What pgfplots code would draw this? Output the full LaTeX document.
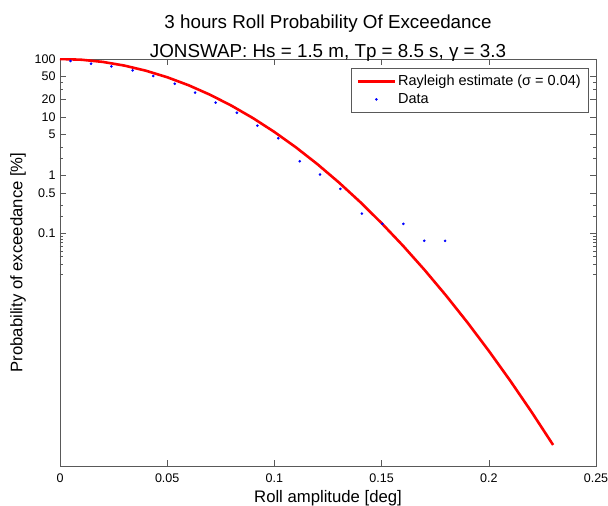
\documentclass[border=0pt]{standalone}
\usepackage{fontspec}
\setmainfont{Liberation Sans}
\usepackage{pgfplots}
\pgfplotsset{compat=1.18}
\begin{document}
\begin{tikzpicture}
\begin{axis}[
  scale only axis, width=536pt, height=407pt,
  xmin=0, xmax=0.25, ymode=log, ymin=1e-5, ymax=100,
  xtick={0,0.05,0.1,0.15,0.2,0.25},
  xticklabels={0,0.05,0.1,0.15,0.2,0.25},
  ytick={0.1,0.5,1,5,10,20,50,100},
  yticklabels={0.1,0.5,1,5,10,20,50,100},
  minor ytick={40,30,3,2,0.3,0.2,0.09,0.08,0.07,0.06,0.05,0.04,0.03,0.02},
  tick align=inside, major tick length=6pt, minor tick length=3pt,
  axis line style={black!65}, every tick/.style={black!65},
  ticklabel style={font=\fontsize{12.5}{14}\selectfont, text=black},
  xticklabel style={yshift=-4pt},
  yticklabel style={xshift=-1pt},
  xlabel={Roll amplitude [deg]},
  ylabel={Probability of exceedance [\%]},
  label style={font=\fontsize{16.7}{19}\selectfont},
  xlabel style={at={(axis description cs:0.5,0)}, anchor=north, yshift=-21pt},
  ylabel style={at={(axis description cs:-0.0784,0.5)}, anchor=center},
  title={3 hours Roll Probability Of Exceedance\\JONSWAP: Hs = 1.5 m, Tp = 8.5 s, γ = 3.3},
  title style={at={(axis description cs:0.5,1)}, anchor=south, align=center,
    font=\fontsize{18.8}{29}\selectfont, inner sep=0pt, yshift=-9pt},
  legend style={at={(rel axis cs:1,1)}, anchor=north east, xshift=-8pt, yshift=-9pt,
    font=\fontsize{14.5}{17}\selectfont, draw=black!65, inner xsep=5pt, inner ysep=5pt,
    row sep=2.5pt, cells={anchor=west}},
]
\addplot[red, line width=2.6pt, mark=none,
  legend image code/.code={\draw[red, line width=2.6pt] (0pt,0pt) -- (37pt,0pt);}]
  coordinates {
  (0.00,100) (0.01,97.15) (0.02,89.09) (0.03,77.10) (0.04,62.98)
  (0.05,48.56) (0.06,35.34) (0.07,24.27) (0.08,15.74) (0.09,9.630)
  (0.10,5.562) (0.11,3.032) (0.12,1.560) (0.13,0.7576) (0.14,0.3472)
  (0.15,0.1502) (0.16,0.06134) (0.17,0.02364) (0.18,0.008600) (0.19,0.002953)
  (0.20,0.0009569) (0.21,0.0002927) (0.22,0.0000845) (0.23,0.0000230)
  };
\addlegendentry{Rayleigh estimate (σ = 0.04)}
\addplot[only marks, blue, mark=*, mark size=1.1pt,
  legend image code/.code={\fill[blue] (18.5pt,0pt) circle (1.1pt);}]
  coordinates {
  (0.0049,92.4) (0.0145,83.0) (0.0240,74.6) (0.0339,63.7) (0.0435,51.0)
  (0.0535,37.6) (0.0630,26.4) (0.0726,17.8) (0.0825,11.9) (0.0921,7.14)
  (0.1018,4.32) (0.1118,1.74) (0.1213,1.03) (0.1308,0.583) (0.1408,0.22)
  (0.1504,0.146) (0.1602,0.146) (0.1699,0.0746) (0.1796,0.0746)
  };
\addlegendentry{Data}
\coordinate (ll) at (rel axis cs:0,0);
\coordinate (ur) at (rel axis cs:1,1);
\end{axis}
\pgfresetboundingbox
\path ([shift={(-60pt,-40pt)}]ll) rectangle ([shift={(12pt,59pt)}]ur);
\end{tikzpicture}
\end{document}
